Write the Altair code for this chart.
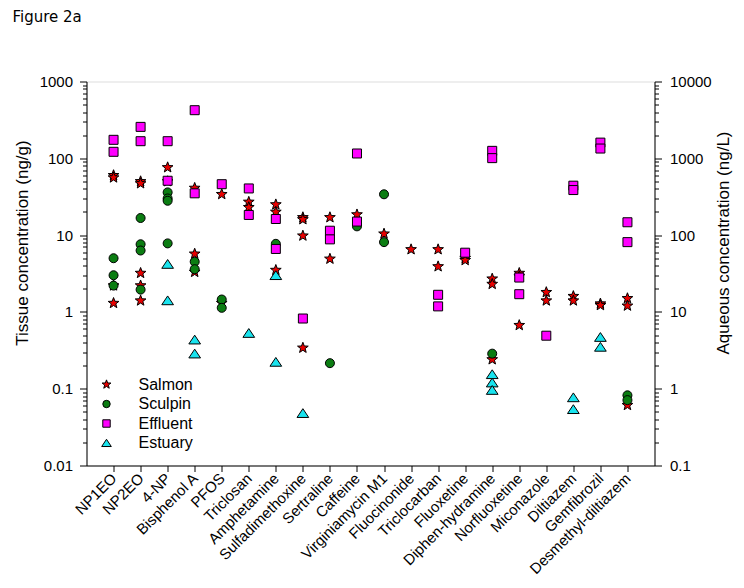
import altair as alt
import pandas as pd

categories = ["NP1EO", "NP2EO", "4-NP", "Bisphenol A", "PFOS", "Triclosan",
              "Amphetamine", "Sulfadimethoxine", "Sertraline", "Caffeine",
              "Virginiamycin M1", "Fluocinonide", "Triclocarban", "Fluoxetine",
              "Diphen-hydramine", "Norfluoxetine", "Miconazole", "Diltiazem",
              "Gemfibrozil", "Desmethyl-diltiazem"]

# Salmon tissue (ng/g)
salmon_cat = ["NP1EO", "NP1EO", "NP1EO", "NP1EO",
              "NP2EO", "NP2EO", "NP2EO", "NP2EO", "NP2EO",
              "4-NP", "4-NP",
              "Bisphenol A", "Bisphenol A", "Bisphenol A",
              "PFOS", "PFOS",
              "Triclosan", "Triclosan",
              "Amphetamine", "Amphetamine", "Amphetamine",
              "Sulfadimethoxine", "Sulfadimethoxine", "Sulfadimethoxine", "Sulfadimethoxine",
              "Sertraline", "Sertraline",
              "Caffeine",
              "Virginiamycin M1",
              "Fluocinonide",
              "Triclocarban", "Triclocarban",
              "Fluoxetine", "Fluoxetine",
              "Diphen-hydramine", "Diphen-hydramine", "Diphen-hydramine",
              "Norfluoxetine", "Norfluoxetine", "Norfluoxetine",
              "Miconazole", "Miconazole",
              "Diltiazem", "Diltiazem",
              "Gemfibrozil", "Gemfibrozil",
              "Desmethyl-diltiazem", "Desmethyl-diltiazem", "Desmethyl-diltiazem"]
salmon_val = [60, 56, 2.2, 1.3,
              50, 47, 3.2, 2.2, 1.4,
              76, 50,
              41, 5.7, 3.3,
              34, 1.3,
              27, 23,
              25, 20, 3.5,
              17, 16, 9.8, 0.34,
              17, 4.9,
              18.5,
              10.4,
              6.5,
              6.5, 3.9,
              5.0, 4.7,
              2.7, 2.3, 0.24,
              3.2, 2.9, 0.67,
              1.8, 1.4,
              1.6, 1.4,
              1.28, 1.22,
              1.5, 1.2, 0.061]

# Sculpin tissue (ng/g)
sculpin_cat = ["NP1EO", "NP1EO", "NP1EO",
               "NP2EO", "NP2EO", "NP2EO", "NP2EO",
               "4-NP", "4-NP", "4-NP", "4-NP",
               "Bisphenol A", "Bisphenol A",
               "PFOS", "PFOS",
               "Amphetamine",
               "Sertraline",
               "Caffeine",
               "Virginiamycin M1", "Virginiamycin M1",
               "Diphen-hydramine",
               "Desmethyl-diltiazem", "Desmethyl-diltiazem"]
sculpin_val = [5.0, 3.0, 2.2,
               16.7, 7.6, 6.3, 1.95,
               36, 30, 28, 7.8,
               4.5, 3.6,
               1.45, 1.13,
               7.7,
               0.215,
               13,
               34, 8.1,
               0.286,
               0.082, 0.071]

# Effluent water (ng/L)
effluent_cat = ["NP1EO", "NP1EO", "NP2EO", "NP2EO", "4-NP", "4-NP",
                "Bisphenol A", "Bisphenol A", "PFOS", "Triclosan", "Triclosan",
                "Amphetamine", "Amphetamine", "Sulfadimethoxine",
                "Sertraline", "Sertraline", "Caffeine", "Caffeine",
                "Triclocarban", "Triclocarban", "Fluoxetine",
                "Diphen-hydramine", "Diphen-hydramine",
                "Norfluoxetine", "Norfluoxetine", "Miconazole",
                "Diltiazem", "Diltiazem", "Gemfibrozil", "Gemfibrozil",
                "Desmethyl-diltiazem", "Desmethyl-diltiazem"]
effluent_val = [1740, 1215, 2565, 1670, 1670, 510,
                4230, 350, 460, 405, 183,
                162, 66, 8.2,
                114, 88, 1155, 150,
                16.7, 11.8, 59,
                1250, 1005,
                28, 17, 4.9,
                440, 386, 1600, 1340,
                147, 81]

# Estuary water (ng/L)
estuary_cat = ["4-NP", "4-NP", "Bisphenol A", "Bisphenol A", "Triclosan",
               "Amphetamine", "Amphetamine", "Sulfadimethoxine",
               "Diphen-hydramine", "Diphen-hydramine", "Diphen-hydramine",
               "Diltiazem", "Diltiazem", "Gemfibrozil", "Gemfibrozil"]
estuary_val = [42, 14.1, 4.35, 2.86, 5.3,
               30, 2.23, 0.48,
               1.54, 1.2, 0.96,
               0.77, 0.54, 4.7, 3.5]

series = ["Salmon", "Sculpin", "Effluent", "Estuary"]
series_colors = ["#e80000", "#0b7d12", "#ff00ff", "#19e3ee"]
STAR = "M0,-1.25L0.31,-0.42L1.19,-0.39L0.5,0.16L0.74,1.01L0,0.52L-0.74,1.01L-0.5,0.16L-1.19,-0.39L-0.31,-0.42Z"
TRI = "M0,-1L1.3,0.95L-1.3,0.95Z"
series_shapes = [STAR, "circle", "square", TRI]

left_ticks = [m * 10 ** e for e in range(-2, 3) for m in range(1, 10)] + [1000]
right_ticks = [m * 10 ** e for e in range(-1, 4) for m in range(1, 10)] + [10000]


def frame(cats, vals, name):
    return pd.DataFrame({"compound": cats, "value": vals, "series": name})


tissue = pd.concat([frame(salmon_cat, salmon_val, "Salmon"),
                    frame(sculpin_cat, sculpin_val, "Sculpin")], ignore_index=True)
aqueous = pd.concat([frame(effluent_cat, effluent_val, "Effluent"),
                     frame(estuary_cat, estuary_val, "Estuary")], ignore_index=True)

MAJOR = "abs(log(datum.value)/LN10 - round(log(datum.value)/LN10)) < 0.001"
FONT = "Liberation Sans"

legend = alt.Legend(title=None, orient="none", legendX=12, legendY=295, padding=0,
                    labelFont=FONT, labelFontSize=16, labelColor="black",
                    symbolSize=55, symbolStrokeColor="black", symbolStrokeWidth=1,
                    rowPadding=3.5, labelOffset=24)
color_enc = alt.Color("series:N", scale=alt.Scale(domain=series, range=series_colors), legend=legend)
shape_enc = alt.Shape("series:N", scale=alt.Scale(domain=series, range=series_shapes), legend=legend)

x_enc = alt.X("compound:N", sort=categories,
              scale=alt.Scale(type="point", domain=categories, padding=1),
              axis=alt.Axis(title=None, labelAngle=315, labelAlign="right", labelBaseline="middle",
                            labelFont=FONT, labelFontSize=15, labelColor="black", labelLimit=0,
                            tickSize=6, tickColor="black", domainColor="black", labelPadding=4,
                            grid=False))

pt = dict(filled=True, stroke="black", strokeWidth=1, size=81, opacity=1)

tissue_layer = alt.Chart(tissue).mark_point(**pt).encode(
    x=x_enc,
    y=alt.Y("value:Q", scale=alt.Scale(type="log", domain=[0.01, 1000]),
            axis=alt.Axis(orient="left", title="Tissue concentration (ng/g)", values=left_ticks,
                          labelExpr=MAJOR + " ? '' + datum.value : ''",
                          tickSize={"condition": {"test": MAJOR, "value": 7}, "value": 4},
                          labelOverlap=False, labelFont=FONT, labelFontSize=15, labelColor="black",
                          labelPadding=7, titleFont=FONT, titleFontSize=17, titleFontWeight="normal",
                          titleColor="black", titlePadding=8, titleY=161, grid=False,
                          domainColor="black", tickColor="black")),
    color=color_enc, shape=shape_enc,
)

aqueous_layer = alt.Chart(aqueous).mark_point(**pt).encode(
    x=x_enc,
    y=alt.Y("value:Q", scale=alt.Scale(type="log", domain=[0.1, 10000]),
            axis=alt.Axis(orient="right", title="Aqueous concentration (ng/L)", values=right_ticks,
                          labelExpr=MAJOR + " ? '' + datum.value : ''",
                          tickSize={"condition": {"test": MAJOR, "value": 7}, "value": 4},
                          labelOverlap=False, labelFont=FONT, labelFontSize=15, labelColor="black",
                          labelPadding=8, titleFont=FONT, titleFontSize=17, titleFontWeight="normal",
                          titleColor="black", titlePadding=4, titleAngle=270, titleBaseline="top",
                          titleY=161, grid=False, domainColor="black", tickColor="black")),
    color=color_enc, shape=shape_enc,
)

chart = alt.layer(tissue_layer, aqueous_layer).resolve_scale(y="independent").properties(
    width=568, height=384,
    autosize=alt.AutoSizeParams(type="none"),
    padding={"left": 78.5, "top": 73.5, "right": 81.5, "bottom": 114},
    title=alt.TitleParams("Figure 2a", anchor="start", frame="group", dx=-74, offset=50,
                          font="DejaVu Sans", fontSize=15, fontWeight="normal", color="black"),
).configure_view(strokeWidth=0).configure(background="white")

chart.save("out.html", embed_options={"renderer": "svg", "actions": False})
